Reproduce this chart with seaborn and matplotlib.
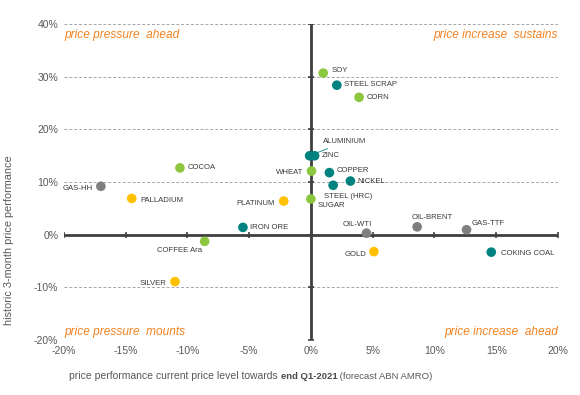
import matplotlib
matplotlib.use("Agg")
import pandas as pd
import seaborn as sns
import matplotlib.pyplot as plt
from matplotlib.ticker import PercentFormatter

# data (x: forecast performance to end Q1-2021, y: 3-month performance)
names = ["SOY", "STEEL SCRAP", "CORN", "ALUMINIUM", "ZINC", "WHEAT", "COPPER", "NICKEL",
         "STEEL (HRC)", "SUGAR", "PLATINUM", "IRON ORE", "OIL-WTI", "OIL-BRENT", "GAS-TTF",
         "GOLD", "COKING COAL", "COCOA", "GAS-HH", "PALLADIUM", "COFFEE Ara", "SILVER"]
x_perf = [1.0, 2.1, 3.9, -0.1, 0.3, 0.05, 1.5, 3.2,
          1.8, 0.0, -2.2, -5.5, 4.5, 8.6, 12.6,
          5.1, 14.6, -10.6, -17.0, -14.5, -8.6, -11.0]
y_perf = [30.7, 28.4, 26.1, 15.0, 15.0, 12.1, 11.8, 10.2,
          9.4, 6.8, 6.4, 1.4, 0.3, 1.5, 0.95,
          -3.2, -3.3, 12.7, 9.2, 6.9, -1.25, -8.9]
groups = ["agri", "metal", "agri", "metal", "metal", "agri", "metal", "metal",
          "metal", "agri", "precious", "metal", "energy", "energy", "energy",
          "precious", "metal", "agri", "energy", "precious", "agri", "precious"]

x_ticks = [-20, -15, -10, -5, 0, 5, 10, 15, 20]
y_ticks = [-20, -10, 0, 10, 20, 30, 40]

df = pd.DataFrame({"name": names, "x": x_perf, "y": y_perf, "group": groups})

palette = {"agri": "#8DC63F", "metal": "#00827F", "energy": "#7F7F7F", "precious": "#FFC000"}
orange = "#F5821F"

# label offsets in pixels (dx, dy, ha)
offsets = {
    "SOY": (8, 3, "left"), "STEEL SCRAP": (7, 1, "left"), "CORN": (8, 0, "left"),
    "ALUMINIUM": (13, 14, "left"), "ZINC": (7, 0, "left"), "WHEAT": (-8, -1, "right"),
    "COPPER": (7, 2, "left"), "NICKEL": (7, 0, "left"), "STEEL (HRC)": (-9, -11, "left"),
    "SUGAR": (7, -7, "left"), "PLATINUM": (-9, -2, "right"), "IRON ORE": (7, 0, "left"),
    "OIL-WTI": (-9, 9, "center"), "OIL-BRENT": (15, 9, "center"), "GAS-TTF": (5, 6, "left"),
    "GOLD": (-7, -3, "right"), "COKING COAL": (10, -1, "left"), "COCOA": (8, 0, "left"),
    "GAS-HH": (-8, -2, "right"), "PALLADIUM": (9, -2, "left"), "COFFEE Ara": (-3, -9, "right"),
    "SILVER": (-8, -2, "right"),
}

sns.set_style("white")
plt.rcParams["font.family"] = ["Liberation Sans", "DejaVu Sans"]
plt.rcParams["axes.unicode_minus"] = False

fig = plt.figure(figsize=(5.8, 3.95), dpi=100)
ax = fig.add_axes([0.110, 0.139, 0.852, 0.800])

# dashed gridlines
for yv in y_ticks:
    if yv != 0:
        ax.axhline(yv, color="#A6A6A6", lw=0.7, ls=(0, (3, 2)), zorder=0)

# thick centre axes with tick marks
axis_col = "#3F3F3F"
ax.axhline(0, color=axis_col, lw=2.0, zorder=1)
ax.axvline(0, color=axis_col, lw=2.0, zorder=1)
ax.plot(x_ticks, [0] * len(x_ticks), ls="none", marker="|", ms=4, mew=1.2, color=axis_col, zorder=1)
ax.plot([0] * len(y_ticks), y_ticks, ls="none", marker="_", ms=4, mew=1.2, color=axis_col, zorder=1)

sns.scatterplot(data=df, x="x", y="y", hue="group", palette=palette, s=48,
                edgecolor="none", legend=False, ax=ax, zorder=3)

for n, xv, yv in zip(names, x_perf, y_perf):
    dx, dy, ha = offsets[n]
    arrow = None
    if n == "ALUMINIUM":
        arrow = dict(arrowstyle="-", color=palette["metal"], lw=0.6, shrinkA=0, shrinkB=2)
    ax.annotate(n, (xv, yv), xytext=(dx, dy), textcoords="offset pixels",
                ha=ha, va="center", fontsize=5.6, color="#3A3A3A",
                arrowprops=arrow, zorder=4)

ax.set_xlim(-20, 20)
ax.set_ylim(-20, 40)
ax.set_xticks(x_ticks)
ax.set_yticks(y_ticks)
ax.xaxis.set_major_formatter(PercentFormatter(decimals=0))
ax.yaxis.set_major_formatter(PercentFormatter(decimals=0))
ax.tick_params(length=0, labelsize=7.5, labelcolor="#595959", pad=4)
ax.set_xlabel("")
ax.set_ylabel("")
for s in ax.spines.values():
    s.set_visible(False)

# quadrant labels
qkw = dict(fontsize=8.6, style="italic", color=orange, transform=ax.transAxes)
ax.text(0.0, 0.965, "price pressure  ahead", ha="left", va="center", **qkw)
ax.text(1.0, 0.965, "price increase  sustains", ha="right", va="center", **qkw)
ax.text(0.0, 0.025, "price pressure  mounts", ha="left", va="center", **qkw)
ax.text(1.0, 0.025, "price increase  ahead", ha="right", va="center", **qkw)

# axis titles
fig.text(0.016, 0.392, "historic 3-month price performance", rotation=90,
         ha="center", va="center", fontsize=7.8, color="#595959")
t1 = fig.text(0.119, 0.048, "price performance current price level towards ",
              fontsize=7.5, color="#595959", va="center")
t2 = ax.annotate("end Q1-2021", xy=(1, 0), xycoords=t1, va="bottom",
                 fontsize=6.8, fontweight="bold", color="#4A4A4A")
ax.annotate(" (forecast ABN AMRO)", xy=(1, 0), xycoords=t2, va="bottom",
            fontsize=6.8, color="#595959")

fig.savefig("out.png", dpi=100)
